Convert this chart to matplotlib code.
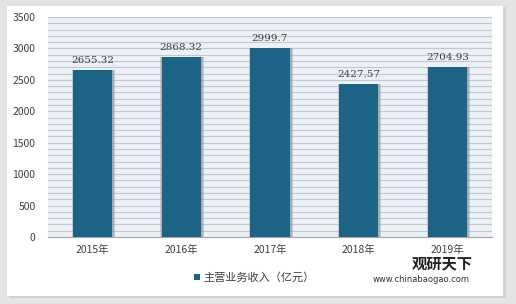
import matplotlib.pyplot as plt
import numpy as np
from matplotlib.patches import Rectangle

plt.rcParams['font.family'] = ['Noto Sans CJK SC', 'DejaVu Sans']

years = ["2015年", "2016年", "2017年", "2018年", "2019年"]
revenue = [2655.32, 2868.32, 2999.7, 2427.57, 2704.93]
value_labels = ["2655.32", "2868.32", "2999.7", "2427.57", "2704.93"]
series_name = "主营业务收入（亿元）"

bar_color = "#1B6486"
text_color = "#404040"

fig = plt.figure(figsize=(5.16, 3.04), dpi=100)
fig.patch.set_facecolor("#E4E4E4")

# white panel with soft edge
fig.patches.append(Rectangle((9 / 516, 6 / 304), 497 / 516, 291 / 304, transform=fig.transFigure,
                             facecolor="#D0D0D0", edgecolor="none", zorder=-3))
fig.patches.append(Rectangle((7 / 516, 8 / 304), 496 / 516, 290 / 304, transform=fig.transFigure,
                             facecolor="white", edgecolor="none", zorder=-2))

ax = fig.add_axes([48 / 516, 67 / 304, 444 / 516, 220 / 304])
ax.set_facecolor("#EBF1F7")

x = np.arange(len(years))
width = 0.44

# bar shadow (soft glow around each bar)
ax.bar(x + 0.01, revenue, width=width + 0.05, color="#9AA3AA", alpha=0.45, zorder=2)
ax.bar(x + 0.01, revenue, width=width + 0.025, color="#8A939A", alpha=0.5, zorder=2)
ax.bar(x, revenue, width=width, color=bar_color, zorder=3)

for xi, v, lab in zip(x, revenue, value_labels):
    ax.text(xi, v + 80, lab, ha="center", va="bottom", fontsize=7.5, color=text_color,
            family=["DejaVu Serif"], zorder=4)

ax.set_xlim(-0.5, len(years) - 0.5)
ax.set_ylim(0, 3500)
ax.set_yticks(np.arange(0, 3501, 500))
ax.set_yticks(np.arange(0, 3501, 100), minor=True)
ax.grid(axis="y", which="both", color="#C4C8CC", linewidth=0.8, zorder=1)
ax.set_axisbelow(True)

ax.set_xticks(x)
ax.set_xticklabels(years)
ax.tick_params(axis="both", which="both", length=0, labelsize=7.5, colors=text_color)
ax.tick_params(axis="x", pad=6)
ax.tick_params(axis="y", pad=9)

for side in ["top", "right", "left"]:
    ax.spines[side].set_visible(False)
ax.spines["bottom"].set_color("#A6A6A6")
ax.spines["bottom"].set_linewidth(0.8)

# legend
fig.patches.append(Rectangle((194 / 516, 1 - 280 / 304), 6 / 516, 6 / 304, transform=fig.transFigure,
                             facecolor=bar_color, edgecolor="none", zorder=3))
fig.text(203 / 516, 1 - 277 / 304, series_name, ha="left", va="center", fontsize=8, color=text_color)

# watermark
fig.text(412 / 516, 1 - 263 / 304, "观研天下", ha="left", va="center", fontsize=11,
         fontweight="bold", color="#222222")
fig.text(373 / 516, 1 - 279 / 304, "www.chinabaogao.com", ha="left", va="center", fontsize=6,
         color="#333333", family=["DejaVu Sans"])

fig.savefig("out.png", dpi=100, facecolor=fig.get_facecolor())
